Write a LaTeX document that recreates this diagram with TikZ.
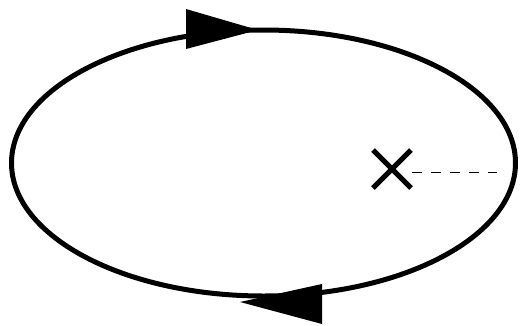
\documentclass[tikz,border=0pt]{standalone}
\usetikzlibrary{shapes.misc}
\begin{document}
\begin{tikzpicture}[x=1pt,y=-1pt,
  loop/.style={line width=5pt},
  headtri/.style={fill=black},
  crossmark/.style={cross out,draw,line width=5pt,minimum size=33pt,inner sep=0pt},
  cutline/.style={line width=1pt,dash pattern=on 10pt off 9pt}]
  \useasboundingbox (0,0) rectangle (520,325);
  % closed contour
  \draw[loop] (263.5,163) ellipse [x radius=252, y radius=133];
  % orientation arrows
  \fill[headtri] (186,9) -- (258,30) -- (186,49) -- cycle;
  \fill[headtri] (322,284) -- (240,302) -- (322,324) -- cycle;
  % pole and its cut
  \node[crossmark] (pole) at (392,169) {};
  \coordinate (cutend) at (497,172);
  \draw[cutline] (412,172) -- (cutend);
\end{tikzpicture}
\end{document}
